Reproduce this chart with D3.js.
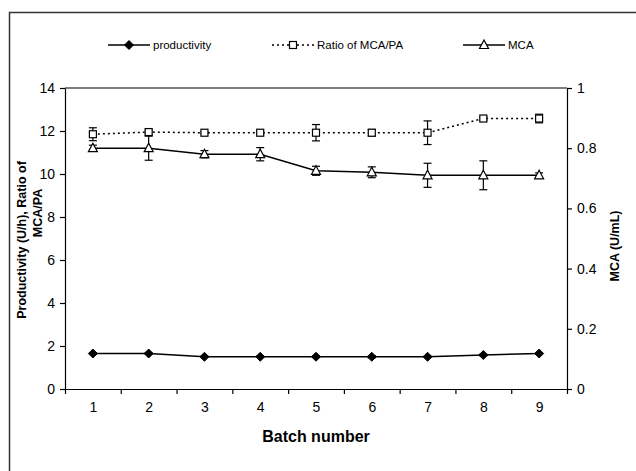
<!DOCTYPE html>
<html>
<head>
<meta charset="utf-8">
<script src="https://cdn.jsdelivr.net/npm/d3@7"></script>
<style>
  body { margin: 0; background: #fff; }
  svg { font-family: "Liberation Sans", Arial, sans-serif; }
  .axis path, .axis line { stroke: #000; stroke-width: 1.2; }
  .axis text { font-size: 14px; fill: #000; }
</style>
</head>
<body>
<svg width="636" height="471"></svg>
<script>
// batch numbers
let batches = [1, 2, 3, 4, 5, 6, 7, 8, 9];
// productivity (U/h) - left axis
let productivity = [1.65, 1.65, 1.5, 1.5, 1.5, 1.5, 1.5, 1.58, 1.65];
let productivityErr = [0.03, 0.03, 0.02, 0.02, 0.02, 0.05, 0.02, 0.04, 0.02];
// ratio of MCA/PA - left axis
let ratio = [11.85, 11.95, 11.92, 11.92, 11.92, 11.92, 11.92, 12.58, 12.58];
let ratioErr = [0.3, 0.1, 0.05, 0.05, 0.38, 0.15, 0.55, 0.08, 0.2];
// MCA (U/mL) - right axis
let mca = [0.8, 0.8, 0.78, 0.78, 0.725, 0.72, 0.71, 0.71, 0.71];
let mcaErr = [0.01, 0.04, 0.012, 0.022, 0.015, 0.018, 0.04, 0.048, 0.008];
// tick labels
let leftTicks = [0, 2, 4, 6, 8, 10, 12, 14];
let rightTicks = [0, 0.2, 0.4, 0.6, 0.8, 1];

let svg = d3.select('svg');
let plotLeft = 65, plotRight = 567, plotTop = 88, plotBottom = 389;

// outer frame
svg.append('rect')
  .attr('x', 9.5).attr('y', 12.5)
  .attr('width', 700).attr('height', 500)
  .style('fill', 'none').style('stroke', '#333').style('stroke-width', 1.5);

let x = d3.scaleLinear().domain([0.5, 9.5]).range([plotLeft, plotRight]);
let yL = d3.scaleLinear().domain([0, 14]).range([plotBottom, plotTop]);
let yR = d3.scaleLinear().domain([0, 1]).range([plotBottom, plotTop]);

// x axis: tick marks between batches, labels under batches
svg.append('g')
  .attr('class', 'axis')
  .attr('transform', 'translate(0,' + plotBottom + ')')
  .call(d3.axisBottom(x).tickValues(d3.range(0.5, 10, 1)).tickSize(5).tickSizeOuter(0).tickFormat(''));
svg.append('g')
  .attr('class', 'axis')
  .attr('transform', 'translate(0,' + plotBottom + ')')
  .call(d3.axisBottom(x).tickValues(batches).tickSize(0).tickPadding(13))
  .call(g => g.select('.domain').remove());

svg.append('g')
  .attr('class', 'axis')
  .attr('transform', 'translate(' + plotLeft + ',0)')
  .call(d3.axisLeft(yL).tickValues(leftTicks).tickSize(5).tickSizeOuter(0).tickPadding(5));

svg.append('g')
  .attr('class', 'axis')
  .attr('transform', 'translate(' + plotRight + ',0)')
  .call(d3.axisRight(yR).tickValues(rightTicks).tickSize(5).tickSizeOuter(0).tickPadding(5)
    .tickFormat(d => d3.format('')(+d.toFixed(1))));

// top border of plot
svg.append('line')
  .attr('x1', plotLeft).attr('x2', plotRight).attr('y1', plotTop).attr('y2', plotTop)
  .style('stroke', '#000').style('stroke-width', 1.2);

// axis titles
svg.append('text')
  .attr('x', (plotLeft + plotRight) / 2).attr('y', 442)
  .attr('text-anchor', 'middle')
  .style('font-weight', 'bold').style('font-size', '16px')
  .text('Batch number');

svg.append('text')
  .attr('transform', 'translate(26,240) rotate(-90)')
  .attr('text-anchor', 'middle')
  .style('font-weight', 'bold').style('font-size', '12.5px')
  .text('Productivity (U/h), Ratio of');
svg.append('text')
  .attr('transform', 'translate(42,213) rotate(-90)')
  .attr('text-anchor', 'middle')
  .style('font-weight', 'bold').style('font-size', '12.5px')
  .text('MCA/PA');

svg.append('text')
  .attr('transform', 'translate(619,246) rotate(-90)')
  .attr('text-anchor', 'middle')
  .style('font-weight', 'bold').style('font-size', '12.5px')
  .text('MCA (U/mL)');

let series = [
  { name: 'productivity', values: productivity, err: productivityErr, y: yL, dash: null, marker: 'diamond' },
  { name: 'Ratio of MCA/PA', values: ratio, err: ratioErr, y: yL, dash: '2,3', marker: 'square' },
  { name: 'MCA', values: mca, err: mcaErr, y: yR, dash: null, marker: 'triangle' }
];

function drawMarker(g, type, cx, cy) {
  if (type === 'diamond') {
    g.append('path')
      .attr('d', 'M' + cx + ',' + (cy - 4.5) + 'L' + (cx + 4.5) + ',' + cy + 'L' + cx + ',' + (cy + 4.5) + 'L' + (cx - 4.5) + ',' + cy + 'Z')
      .style('fill', '#000').style('stroke', '#000').style('stroke-width', 1);
  } else if (type === 'square') {
    g.append('rect')
      .attr('x', cx - 3.5).attr('y', cy - 3.5).attr('width', 7).attr('height', 7)
      .style('fill', '#fff').style('stroke', '#000').style('stroke-width', 1.2);
  } else {
    g.append('path')
      .attr('d', 'M' + cx + ',' + (cy - 5) + 'L' + (cx + 4.5) + ',' + (cy + 3.5) + 'L' + (cx - 4.5) + ',' + (cy + 3.5) + 'Z')
      .style('fill', '#fff').style('stroke', '#000').style('stroke-width', 1.2);
  }
}

series.forEach(s => {
  let g = svg.append('g');
  let line = d3.line()
    .x((d, i) => x(batches[i]))
    .y(d => s.y(d));
  g.append('path')
    .attr('d', line(s.values))
    .style('fill', 'none').style('stroke', '#000').style('stroke-width', 1.5)
    .style('stroke-dasharray', s.dash);
  // error bars
  s.values.forEach((v, i) => {
    let cx = x(batches[i]);
    let y1 = s.y(v - s.err[i]), y2 = s.y(v + s.err[i]);
    g.append('line').attr('x1', cx).attr('x2', cx).attr('y1', y1).attr('y2', y2)
      .style('stroke', '#000').style('stroke-width', 1.2);
    [y1, y2].forEach(yy => {
      g.append('line').attr('x1', cx - 4).attr('x2', cx + 4).attr('y1', yy).attr('y2', yy)
        .style('stroke', '#000').style('stroke-width', 1.2);
    });
  });
  s.values.forEach((v, i) => drawMarker(g, s.marker, x(batches[i]), s.y(v)));
});

// legend
let legendX = [108, 272, 463];
series.forEach((s, i) => {
  let g = svg.append('g');
  let lx = legendX[i], ly = 45;
  g.append('line').attr('x1', lx).attr('x2', lx + 42).attr('y1', ly).attr('y2', ly)
    .style('stroke', '#000').style('stroke-width', 1.3).style('stroke-dasharray', s.dash);
  drawMarker(g, s.marker, lx + 21, ly);
  g.append('text')
    .attr('x', lx + 45).attr('y', ly + 4)
    .style('font-size', '11.5px')
    .text(s.name);
});
</script>
</body>
</html>
